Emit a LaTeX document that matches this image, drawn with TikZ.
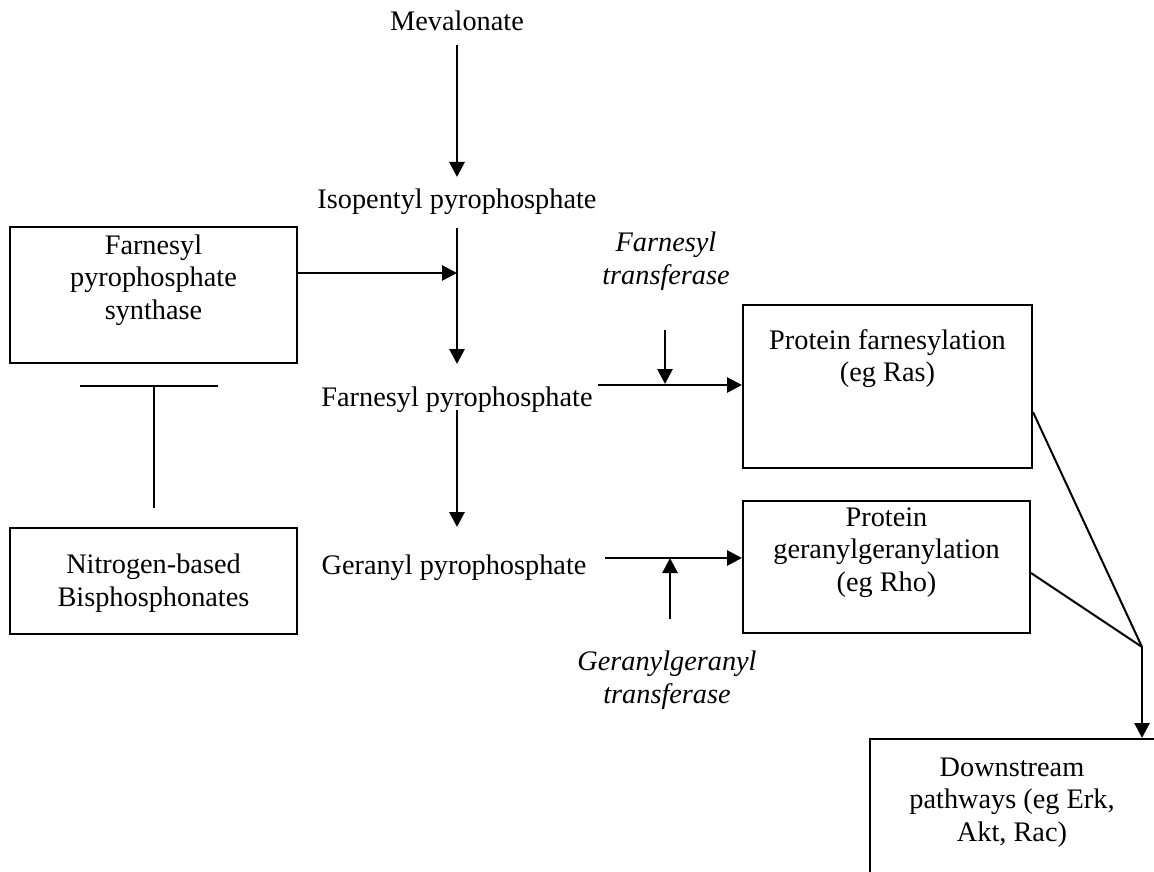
\documentclass[tikz,border=0pt]{standalone}
\usepackage{fontspec}
\setmainfont{Liberation Serif}
\usetikzlibrary{arrows.meta}
\begin{document}
\begin{tikzpicture}[x=1pt,y=-1pt,
  txt/.style={font=\fontsize{28.3}{32.5}\selectfont, align=center, inner sep=0pt},
  itxt/.style={font=\fontsize{28.3}{32.5}\selectfont\itshape, align=center, inner sep=0pt},
  box/.style={draw, line width=2pt, inner sep=0pt},
  arr/.style={line width=2.8pt, -{Triangle[length=15pt,width=15pt]}},
  ln/.style={line width=2pt}]
\useasboundingbox (0,0) rectangle (1154,872);
\clip (0,0) rectangle (1154,872);

% boxes
\node[box, minimum width=287pt, minimum height=136pt] (fpps) at (153.5,295) {};
\node[box, minimum width=287pt, minimum height=106pt] (nbp) at (153.5,581) {};
\node[box, minimum width=289pt, minimum height=163pt] (pf) at (887.5,386.5) {};
\node[box, minimum width=287pt, minimum height=132pt] (pg) at (886.5,567) {};
\node[box, minimum width=288pt, minimum height=142pt] (ds) at (1014,810) {};

% box texts
\node[txt] (fppst) at (153.5,280) {Farnesyl\\pyrophosphate\\synthase};
\node[txt] (nbpt) at (153.5,583.4) {Nitrogen-based\\Bisphosphonates};
\node[txt] (pft) at (887.5,358.4) {Protein farnesylation\\(eg Ras)};
\node[txt] (pgt) at (886.5,552.4) {Protein\\geranylgeranylation\\(eg Rho)};
\node[txt] (dst) at (1012,802.4) {Downstream\\pathways (eg Erk,\\Akt, Rac)};

% free texts
\node[txt, anchor=base] (mev) at (457,31) {Mevalonate};
\node[txt, anchor=base] (isop) at (457,208) {Isopentyl pyrophosphate};
\node[txt, anchor=base] (fpp) at (457,406) {Farnesyl pyrophosphate};
\node[txt, anchor=base] (gpp) at (454,574) {Geranyl pyrophosphate};
\node[itxt] (ft) at (666,261.4) {Farnesyl\\transferase};
\node[itxt] (ggt) at (667,680.4) {Geranylgeranyl\\transferase};

% coordinates
\coordinate (a1) at (457,45);
\coordinate (a2) at (457,177);
\coordinate (b1) at (457,228);
\coordinate (b2) at (457,364);
\coordinate (c1) at (457,410);
\coordinate (c2) at (457,527);
\coordinate (f1) at (457,273);
\coordinate (p1) at (598,385);
\coordinate (ft1) at (665,330);
\coordinate (ft2) at (665,384);
\coordinate (g1) at (605,558);
\coordinate (gg1) at (670,619);
\coordinate (t1) at (80,386);
\coordinate (t2) at (218,386);
\coordinate (t3) at (153.5,386);
\coordinate (t4) at (153.5,508);
\coordinate (m) at (1142,647);

% connectors
\draw[arr] (a1) -- (a2);
\draw[arr] (b1) -- (b2);
\draw[arr] (c1) -- (c2);
\draw[arr] (fpps.east |- f1) -- (f1);
\draw[arr] (p1) -- (p1 -| pf.west);
\draw[arr] (ft1) -- (ft2);
\draw[arr] (g1) -- (g1 -| pg.west);
\draw[arr] (gg1) -- (gg1 |- g1);
\draw[ln] (t1) -- (t2);
\draw[ln] (t3) -- (t4);
\draw[ln] ([yshift=-25.5pt]pf.east) -- (m);
\draw[ln] ([yshift=-6pt]pg.east) -- (m);
\draw[arr] (m) -- (m |- ds.north);
\end{tikzpicture}
\end{document}
